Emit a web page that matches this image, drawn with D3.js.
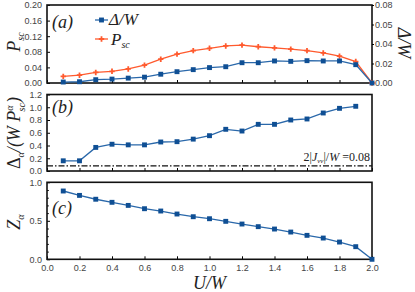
<!DOCTYPE html>
<html>
<head>
<meta charset="utf-8">
<script src="https://cdn.jsdelivr.net/npm/d3@7"></script>
<style>
  body { margin: 0; background: #fff; }
  .tick text { font-family: 'Liberation Sans', sans-serif; font-size: 9px; fill: #444; }
  .lab { font-family: 'Liberation Serif', serif; font-style: italic; fill: #222; }
</style>
</head>
<body>
<div id="chart"></div>
<script>
// data
const u = [0.1, 0.2, 0.3, 0.4, 0.5, 0.6, 0.7, 0.8, 0.9, 1.0,
  1.1, 1.2, 1.3, 1.4, 1.5, 1.6, 1.7, 1.8, 1.9, 2.0];
const psc = [0.017, 0.020, 0.027, 0.030, 0.036, 0.046, 0.061, 0.074, 0.083, 0.089,
  0.095, 0.097, 0.093, 0.090, 0.087, 0.083, 0.077, 0.069, 0.055, 0.0];
const deltaW = [0.001, 0.0013, 0.0034, 0.004, 0.005, 0.006, 0.009, 0.0116, 0.0137, 0.0158,
  0.0167, 0.0208, 0.0208, 0.0226, 0.0222, 0.0229, 0.0226, 0.0226, 0.0188, 0.0];
const uB = u.slice(0, 19);
const ratio = [0.16, 0.16, 0.37, 0.42, 0.41, 0.41, 0.455, 0.46, 0.50, 0.554,
  0.654, 0.627, 0.732, 0.732, 0.80, 0.816, 0.91, 0.983, 1.015];
const zAlpha = [0.887, 0.83, 0.78, 0.74, 0.70, 0.657, 0.627, 0.588, 0.553, 0.527,
  0.493, 0.458, 0.424, 0.393, 0.354, 0.311, 0.276, 0.224, 0.164, 0.0];
const jLevel = 0.08;
const xTicks = [0, 0.2, 0.4, 0.6, 0.8, 1.0, 1.2, 1.4, 1.6, 1.8, 2.0];
const aTicks = [0, 0.04, 0.08, 0.12, 0.16, 0.20];
const aRightTicks = [0, 0.02, 0.04, 0.06, 0.08];
const aRightLabels = ['0.00', '0.02', '0.04', '0.05', '0.08'];
const bTicks = [0, 0.2, 0.4, 0.6, 0.8, 1.0, 1.2];
const cTicks = [0, 0.5, 1.0];

const w = 415;
const h = 292;
const blue = '#0f4f94';
const blueLine = '#2a68aa';
const orange = '#ff5a2e';

const svg = d3.select('#chart').append('svg')
  .attr('width', w).attr('height', h);

const x = d3.scaleLinear().domain([0, 2]).range([47, 372]);
const yA = d3.scaleLinear().domain([0, 0.2]).range([83, 5]);
const yA2 = d3.scaleLinear().domain([0, 0.08]).range([83, 5]);
const yB = d3.scaleLinear().domain([0, 1.2]).range([171, 94.5]);
const yC = d3.scaleLinear().domain([0, 1]).range([259.3, 182.3]);

function frame(y, ticks, fmt, minor, showX) {
  const top = y.range()[1];
  const bot = y.range()[0];
  // x axis ticks (inside)
  const gx = svg.append('g').attr('transform', `translate(0,${bot})`)
    .call(d3.axisBottom(x).tickValues(xTicks).tickSizeInner(-3).tickSizeOuter(0)
      .tickPadding(5).tickFormat(showX ? d3.format('.1f') : () => ''));
  gx.select('.domain').remove();
  // left axis
  const gy = svg.append('g').attr('transform', `translate(${x.range()[0]},0)`)
    .call(d3.axisLeft(y).tickValues(ticks).tickSizeInner(-3).tickSizeOuter(0)
      .tickPadding(5).tickFormat(fmt));
  gy.select('.domain').remove();
  if (minor) {
    svg.append('g').attr('transform', `translate(${x.range()[0]},0)`)
      .call(d3.axisLeft(y).tickValues(minor).tickSizeInner(-1.8).tickSizeOuter(0).tickFormat(''))
      .select('.domain').remove();
  }
  svg.append('rect')
    .attr('x', x.range()[0]).attr('y', top)
    .attr('width', x.range()[1] - x.range()[0]).attr('height', bot - top)
    .attr('fill', 'none').attr('stroke', '#111').attr('stroke-width', 1.6);
}

function series(xs, ys, xScale, yScale, color, lineColor, shape) {
  svg.append('path')
    .datum(ys)
    .attr('fill', 'none')
    .attr('stroke', lineColor)
    .attr('stroke-width', 1.3)
    .attr('d', d3.line().x((d, i) => xScale(xs[i])).y((d) => yScale(d)));
  svg.append('g').selectAll('path')
    .data(ys)
    .enter()
    .append('path')
    .attr('transform', (d, i) => `translate(${xScale(xs[i])},${yScale(d)})`)
    .attr('d', d3.symbol(shape, shape === d3.symbolSquare ? 24 : 16)())
    .attr('fill', color);
}

// panel (a)
frame(yA, aTicks, d3.format('.2f'), null, false);
const gr = svg.append('g').attr('transform', `translate(${x.range()[1]},0)`)
  .call(d3.axisRight(yA2).tickValues(aRightTicks).tickSizeInner(2).tickSizeOuter(0)
    .tickPadding(1).tickFormat((d, i) => aRightLabels[i]));
gr.select('.domain').remove();
series(u, psc, x, yA, orange, orange, d3.symbolCross);
series(u, deltaW, x, yA2, blue, blueLine, d3.symbolSquare);

// panel (b)
frame(yB, bTicks, d3.format('.1f'), null, false);
svg.append('line')
  .attr('x1', x.range()[0]).attr('x2', x.range()[1])
  .attr('y1', yB(jLevel)).attr('y2', yB(jLevel))
  .attr('stroke', '#111').attr('stroke-width', 1.4)
  .attr('stroke-dasharray', '6,2,1.5,2');
series(uB, ratio, x, yB, blue, blueLine, d3.symbolSquare);

// panel (c)
const cMinor = d3.range(0, 1.001, 0.1).filter((d) => Math.abs(d * 2 - Math.round(d * 2)) > 1e-6);
frame(yC, cTicks, d3.format('.1f'), cMinor, true);
series(u, zAlpha, x, yC, blue, blueLine, d3.symbolSquare);

// panel letters
[['a', 22], ['b', 107], ['c', 208]].forEach(([l, cy]) => {
  svg.append('text').attr('class', 'lab')
    .attr('x', 52).attr('y', cy + 6)
    .style('font-size', '18px')
    .text(`(${l})`);
});

// legend
const legend = svg.append('g');
legend.append('line').attr('x1', 95).attr('x2', 108).attr('y1', 20).attr('y2', 20)
  .attr('stroke', blueLine).attr('stroke-width', 1.3);
legend.append('path').attr('transform', 'translate(101.5,20)')
  .attr('d', d3.symbol(d3.symbolSquare, 24)()).attr('fill', blue);
legend.append('text').attr('class', 'lab').attr('x', 109).attr('y', 25)
  .style('font-size', '17px').text('Δ/W');
legend.append('line').attr('x1', 95).attr('x2', 108).attr('y1', 39).attr('y2', 39)
  .attr('stroke', orange).attr('stroke-width', 1.3);
legend.append('path').attr('transform', 'translate(101.5,39)')
  .attr('d', d3.symbol(d3.symbolCross, 16)()).attr('fill', orange);
const pl = legend.append('text').attr('class', 'lab').attr('x', 111).attr('y', 45)
  .style('font-size', '17px');
pl.append('tspan').text('P');
pl.append('tspan').attr('dy', 3).style('font-size', '10px').text('sc');

// y labels
const la = svg.append('text').attr('class', 'lab')
  .attr('transform', 'translate(20,42) rotate(-90)')
  .attr('text-anchor', 'middle').style('font-size', '18px');
la.append('tspan').text('P');
la.append('tspan').attr('dy', 4).style('font-size', '10px').text('sc');

svg.append('text').attr('class', 'lab')
  .attr('transform', 'translate(398,43) rotate(90)')
  .attr('text-anchor', 'middle').style('font-size', '18px')
  .text('Δ/W');

const lb = svg.append('text').attr('class', 'lab')
  .attr('transform', 'translate(20,133) rotate(-90)')
  .attr('text-anchor', 'middle').style('font-size', '18px');
lb.append('tspan').style('font-style', 'normal').text('Δ');
lb.append('tspan').attr('dy', 4).style('font-size', '10px').text('α');
lb.append('tspan').attr('dy', -4).text('/(W P');
lb.append('tspan').attr('dy', -7).style('font-size', '10px').text('α');
lb.append('tspan').attr('dx', -6).attr('dy', 12).style('font-size', '10px').text('sc');
lb.append('tspan').attr('dy', -5).text(')');

const lc = svg.append('text').attr('class', 'lab')
  .attr('transform', 'translate(20,222) rotate(-90)')
  .attr('text-anchor', 'middle').style('font-size', '18px');
lc.append('tspan').text('Z');
lc.append('tspan').attr('dy', 4).style('font-size', '10px').text('α');

// x label
svg.append('text').attr('class', 'lab')
  .attr('x', x(1)).attr('y', 289).attr('text-anchor', 'middle')
  .style('font-size', '18px').text('U/W');

// J annotation
const jt = svg.append('text').attr('class', 'lab')
  .attr('x', 370).attr('y', 161).attr('text-anchor', 'end')
  .style('font-style', 'normal').style('font-size', '12px');
jt.append('tspan').text('2|');
jt.append('tspan').style('font-style', 'italic').text('J');
jt.append('tspan').attr('dy', 2).style('font-size', '7px').style('font-style', 'italic').text('vv');
jt.append('tspan').attr('dy', -2).text('|/');
jt.append('tspan').style('font-style', 'italic').text('W');
jt.append('tspan').text(' =0.08');
</script>
</body>
</html>
